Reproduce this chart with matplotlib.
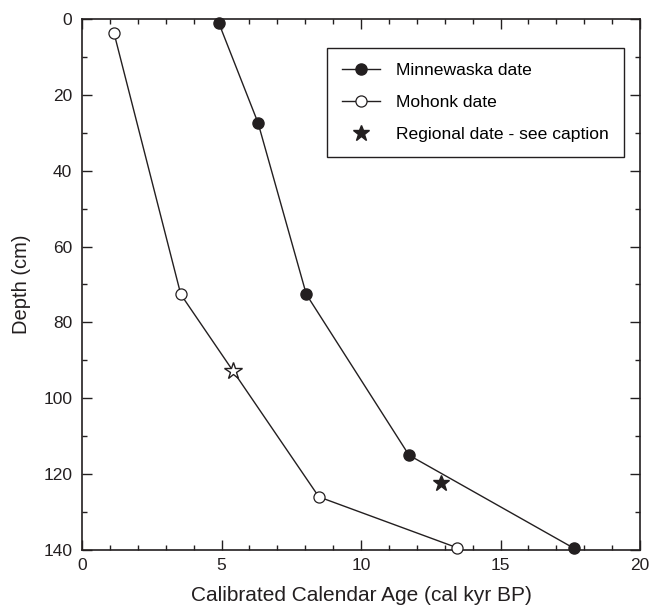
import matplotlib
matplotlib.use("Agg")
import matplotlib.pyplot as plt
from matplotlib.ticker import MultipleLocator

plt.rcParams['font.family'] = ['Liberation Sans', 'DejaVu Sans']

# Data
minnewaska_age = [4.9, 6.31, 8.04, 11.72, 17.62]
minnewaska_depth = [1.0, 27.4, 72.6, 115.0, 139.5]
mohonk_age = [1.15, 3.54, 8.49, 13.44]
mohonk_depth = [3.8, 72.6, 126.0, 139.4]
regional_open_age = [5.42]
regional_open_depth = [92.8]
regional_filled_age = [12.87]
regional_filled_depth = [122.3]

col = '#231f20'

fig = plt.figure(figsize=(6.52, 6.09), dpi=100)
ax = fig.add_axes([0.1258, 0.0969, 0.8558, 0.8719])

ax.plot(minnewaska_age, minnewaska_depth, '-o', color=col, lw=1.0,
        ms=8, mfc=col, mec=col, label='Minnewaska date', clip_on=False, zorder=3)
ax.plot(mohonk_age, mohonk_depth, '-o', color=col, lw=1.0,
        ms=8, mfc='white', mec=col, mew=0.9, label='Mohonk date', clip_on=False, zorder=3)
ax.plot(regional_filled_age, regional_filled_depth, '*', color=col, ms=12,
        ls='none', label='Regional date - see caption', zorder=4)
ax.plot(regional_open_age, regional_open_depth, '*', mfc='white', mec=col, mew=1.0,
        ms=13, ls='none', zorder=4)

ax.set_xlim(0, 20)
ax.set_ylim(140, 0)
ax.xaxis.set_major_locator(MultipleLocator(5))
ax.xaxis.set_minor_locator(MultipleLocator(1))
ax.yaxis.set_major_locator(MultipleLocator(20))
ax.yaxis.set_minor_locator(MultipleLocator(10))
ax.tick_params(which='both', direction='in', top=True, right=True,
               colors=col, width=1.0, labelsize=12.5)
ax.tick_params(which='major', length=7)
ax.tick_params(which='minor', length=3.6)
ax.tick_params(axis='x', which='major', pad=6)
ax.tick_params(axis='y', which='major', pad=7)
for s in ax.spines.values():
    s.set_linewidth(1.2)
    s.set_color(col)

ax.set_xlabel('Calibrated Calendar Age (cal kyr BP)', fontsize=15, color=col, labelpad=9)
ax.set_ylabel('Depth (cm)', fontsize=14.5, color=col, labelpad=9)

leg = ax.legend(loc='upper right', bbox_to_anchor=(0.971, 0.945), borderaxespad=0,
                fontsize=12.6, frameon=True, fancybox=False, edgecolor=col, framealpha=1,
                borderpad=0.85, labelspacing=0.95, handlelength=2.2, handletextpad=0.9)
leg.get_frame().set_linewidth(1.0)

fig.savefig('out.png', dpi=100)
